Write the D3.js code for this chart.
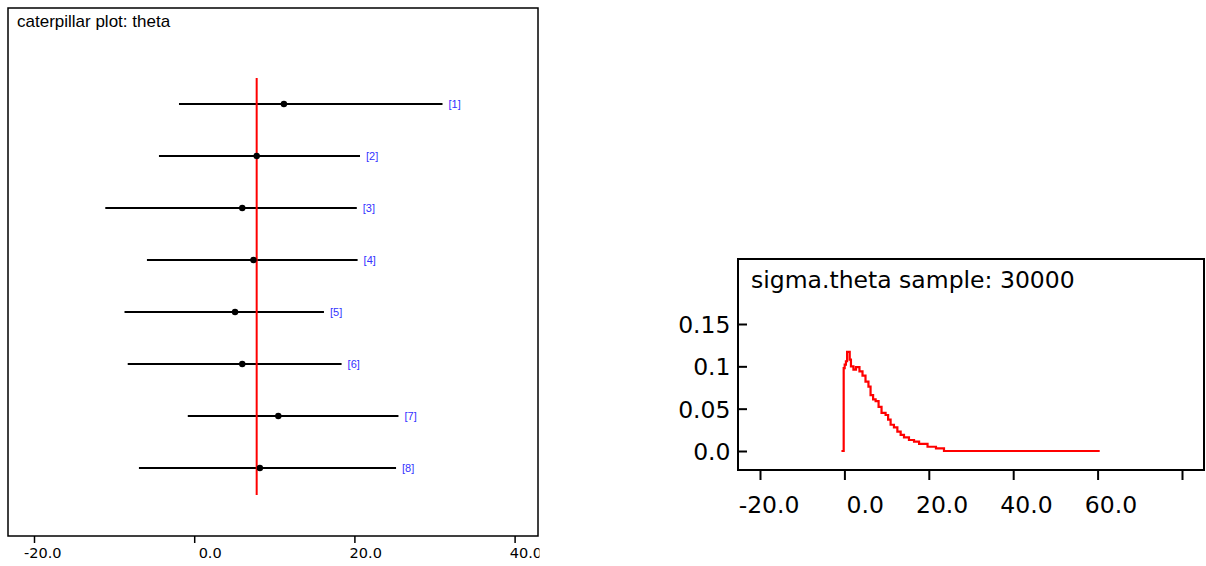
<!DOCTYPE html>
<html>
<head>
<meta charset="utf-8">
<script src="https://cdn.jsdelivr.net/npm/d3@7"></script>
<style>
  body { margin: 0; background: #fff; }
  svg { display: block; }
</style>
</head>
<body>
<svg id="chart"></svg>
<script>
// caterpillar plot: theta (2.5%, median, 97.5%)
const nodeLabels = ['[1]', '[2]', '[3]', '[4]', '[5]', '[6]', '[7]', '[8]'];
const lowerValues = [-1.9, -4.4, -11.1, -5.9, -8.7, -8.3, -0.8, -6.9];
const medianValues = [11.2, 7.8, 6.0, 7.4, 5.1, 6.0, 10.5, 8.2];
const upperValues = [31.0, 20.7, 20.3, 20.4, 16.2, 18.4, 25.5, 25.2];
const overallMean = 7.8;
const caterpillarTicks = [-20, 0, 20, 40];
const caterpillarLabels = ['-20.0', '0.0', '20.0', '40.0'];

// sigma.theta density (step outline)
const densityX = [-0.7, -0.17, 0.07, 0.36, 0.64, 1.26, 1.55, 2.14, 2.74, 3.57, 4.29, 5.0, 5.7, 6.2, 6.8, 7.4,
  8.1, 8.8, 9.76, 10.36, 10.95, 11.74, 12.55, 13.33, 14.12, 15.3, 16.5, 17.7, 19.7, 21.7, 23.6, 60.5];
const densityY = [0, 0.098, 0.102, 0.106, 0.117, 0.108, 0.1, 0.096, 0.099, 0.094, 0.089, 0.082, 0.076, 0.066, 0.061, 0.059,
  0.052, 0.045, 0.0425, 0.037, 0.031, 0.028, 0.023, 0.019, 0.016, 0.013, 0.011, 0.0083, 0.005, 0.003, 0, 0];
const densityXTicks = [-20, 0, 20, 40, 60, 80];
const densityXLabels = ['-20.0', '0.0', '20.0', '40.0', '60.0', ''];
const densityYTicks = [0, 0.05, 0.1, 0.15];
const densityYLabels = ['0.0', '0.05', '0.1', '0.15'];

const svg = d3.select('#chart')
    .attr('width', 1206)
    .attr('height', 566);

svg.append('rect')
    .attr('width', 1206)
    .attr('height', 566)
    .attr('fill', '#fff');

drawCaterpillar();
drawDensity();

function drawCaterpillar() {
  const frame = {left: 8, top: 8, right: 538, bottom: 536};

  // the panel is cut at its right edge (the "40.0" label gets clipped)
  svg.append('clipPath')
      .attr('id', 'left-clip')
      .append('rect')
      .attr('width', 539.5)
      .attr('height', 566);

  const g = svg.append('g').attr('clip-path', 'url(#left-clip)');

  const x = d3.scaleLinear()
      .domain([-20, 40])
      .range([34, 514.6]);

  const y = d3.scalePoint()
      .domain(nodeLabels)
      .range([78, 494])
      .padding(0.5);

  g.append('rect')
      .attr('x', frame.left)
      .attr('y', frame.top)
      .attr('width', frame.right - frame.left)
      .attr('height', frame.bottom - frame.top)
      .attr('fill', 'none')
      .attr('stroke', '#000')
      .attr('stroke-width', 1.5);

  g.append('text')
      .attr('x', 17)
      .attr('y', 26.5)
      .attr('font-family', 'Liberation Sans, Arial, sans-serif')
      .attr('font-size', 17)
      .attr('fill', '#000')
      .text('caterpillar plot: theta');

  // x axis below the frame
  const axis = g.append('g')
      .attr('transform', `translate(0,${frame.bottom})`)
      .call(d3.axisBottom(x).tickValues(caterpillarTicks).tickSize(7)
          .tickFormat((d, i) => caterpillarLabels[i]));
  axis.select('.domain').remove();
  axis.selectAll('line').attr('stroke', '#000').attr('stroke-width', 1.5);
  axis.selectAll('text')
      .attr('font-family', 'DejaVu Sans, sans-serif')
      .attr('font-size', 14.5)
      .attr('fill', '#000')
      .attr('text-anchor', 'end')
      .attr('x', 27)
      .attr('y', 22)
      .attr('dy', 0);

  const rows = nodeLabels.map((label, i) => ({
    label: label, lo: lowerValues[i], med: medianValues[i], hi: upperValues[i],
  }));

  g.selectAll('.whisker')
      .data(rows)
      .enter().append('line')
      .attr('class', 'whisker')
      .attr('x1', (d) => x(d.lo))
      .attr('x2', (d) => x(d.hi))
      .attr('y1', (d) => y(d.label))
      .attr('y2', (d) => y(d.label))
      .attr('stroke', '#000')
      .attr('stroke-width', 2);

  // overall mean
  g.append('line')
      .attr('x1', x(overallMean))
      .attr('x2', x(overallMean))
      .attr('y1', y.range()[0])
      .attr('y2', y.range()[1] + 1)
      .attr('stroke', '#ff0000')
      .attr('stroke-width', 2);

  g.selectAll('.median')
      .data(rows)
      .enter().append('circle')
      .attr('class', 'median')
      .attr('cx', (d) => x(d.med))
      .attr('cy', (d) => y(d.label))
      .attr('r', 3.2)
      .attr('fill', '#000');

  g.selectAll('.node-label')
      .data(rows)
      .enter().append('text')
      .attr('class', 'node-label')
      .attr('x', (d) => x(d.hi) + 6)
      .attr('y', (d) => y(d.label) + 4)
      .attr('font-family', 'Liberation Sans, Arial, sans-serif')
      .attr('font-size', 11)
      .attr('fill', '#3333ff')
      .text((d) => d.label);
}

function drawDensity() {
  const frame = {left: 738, top: 259, right: 1204, bottom: 470};

  const x = d3.scaleLinear()
      .domain([-20, 80])
      .range([760, 1182]);

  const y = d3.scaleLinear()
      .domain([0, 0.15])
      .range([451, 324]);

  const g = svg.append('g');

  g.append('rect')
      .attr('x', frame.left)
      .attr('y', frame.top)
      .attr('width', frame.right - frame.left)
      .attr('height', frame.bottom - frame.top)
      .attr('fill', 'none')
      .attr('stroke', '#000')
      .attr('stroke-width', 2);

  g.append('text')
      .attr('x', 751)
      .attr('y', 287.5)
      .attr('font-family', 'DejaVu Sans, sans-serif')
      .attr('font-size', 23.5)
      .attr('fill', '#000')
      .text('sigma.theta sample: 30000');

  const xAxis = g.append('g')
      .attr('transform', `translate(0,${frame.bottom})`)
      .call(d3.axisBottom(x).tickValues(densityXTicks).tickSize(10)
          .tickFormat((d, i) => densityXLabels[i]));
  xAxis.select('.domain').remove();
  xAxis.selectAll('line').attr('stroke', '#000').attr('stroke-width', 2);
  xAxis.selectAll('text')
      .attr('font-family', 'DejaVu Sans, sans-serif')
      .attr('font-size', 23.5)
      .attr('fill', '#000')
      .attr('text-anchor', 'end')
      .attr('x', 39)
      .attr('y', 42.5)
      .attr('dy', 0);

  // y ticks point into the frame, labels sit outside
  const yAxis = g.append('g')
      .attr('transform', `translate(${frame.left},0)`)
      .call(d3.axisRight(y).tickValues(densityYTicks).tickSize(9)
          .tickFormat((d, i) => densityYLabels[i]));
  yAxis.select('.domain').remove();
  yAxis.selectAll('line').attr('stroke', '#000').attr('stroke-width', 2);
  yAxis.selectAll('text')
      .attr('font-family', 'DejaVu Sans, sans-serif')
      .attr('font-size', 23.5)
      .attr('fill', '#000')
      .attr('text-anchor', 'end')
      .attr('x', -7.5)
      .attr('dy', '0.36em');

  const points = densityX.map((v, i) => [v, densityY[i]]);
  const line = d3.line()
      .x((d) => x(d[0]))
      .y((d) => y(d[1]))
      .curve(d3.curveStepAfter);

  g.append('path')
      .datum(points)
      .attr('d', line)
      .attr('fill', 'none')
      .attr('stroke', '#ff0000')
      .attr('stroke-width', 2.2);
}
</script>
</body>
</html>
